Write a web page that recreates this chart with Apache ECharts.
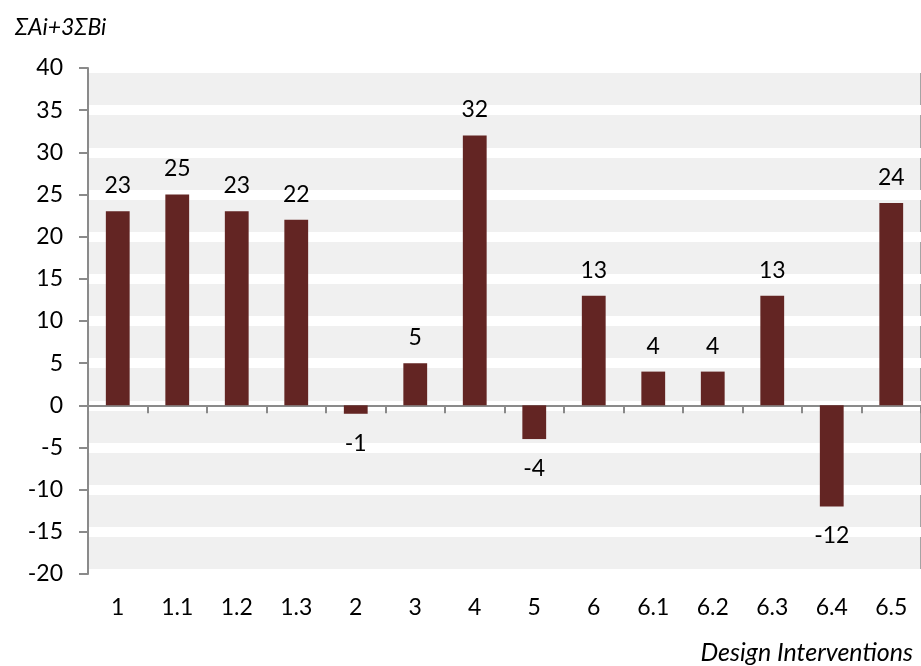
<!DOCTYPE html>
<html>
<head>
<meta charset="utf-8">
<script src="https://cdn.jsdelivr.net/npm/echarts@6/dist/echarts.min.js"></script>
<style>
  html, body { margin: 0; padding: 0; background: #fff; }
  #chart { width: 921px; height: 666px; }
</style>
</head>
<body>
<div id="chart"></div>
<script>
const categories = ['1', '1.1', '1.2', '1.3', '2', '3', '4', '5', '6', '6.1', '6.2', '6.3', '6.4', '6.5'];
const scores = [23, 25, 23, 22, -1, 5, 32, -4, 13, 4, 4, 13, -12, 24];
const yTicks = { min: -20, max: 40, interval: 5 };

const font = 'Lato, "Open Sans", sans-serif';
const axisGray = '#8a8a8a';

let chart = echarts.init(document.getElementById('chart'));
chart.setOption({
  animation: false,
  textStyle: { fontFamily: font },
  title: [{
    text: 'ΣAi+3ΣBi',
    left: 10, top: 11,
    textStyle: { fontFamily: font, fontStyle: 'italic', fontWeight: 'normal', fontSize: 23, color: '#000' }
  }, {
    text: 'Design Interventions',
    right: 3, top: 635,
    textStyle: { fontFamily: font, fontStyle: 'italic', fontWeight: 'normal', fontSize: 25, color: '#000' }
  }],
  grid: {
    left: 88, right: -7, top: 68, bottom: 92,
    show: true,
    backgroundColor: '#f0f0f0',
    borderColor: axisGray,
    borderWidth: 1.5
  },
  xAxis: [{
    type: 'category',
    data: categories,
    axisLine: { onZero: true, lineStyle: { color: axisGray, width: 2 } },
    axisTick: { show: true, length: 8, lineStyle: { color: axisGray, width: 2 } },
    axisLabel: { show: false }
  }, {
    type: 'category',
    data: categories,
    position: 'bottom',
    axisLine: { show: false, onZero: false },
    axisTick: { show: false },
    axisLabel: { margin: 22, fontSize: 23, color: '#000', fontFamily: font }
  }],
  yAxis: {
    type: 'value',
    min: yTicks.min, max: yTicks.max, interval: yTicks.interval,
    axisLine: { show: true, lineStyle: { color: axisGray, width: 2 } },
    axisTick: { show: true, length: 9, lineStyle: { color: axisGray, width: 2 } },
    axisLabel: { margin: 25, fontSize: 23, color: '#000', fontFamily: font },
    splitLine: { show: true, lineStyle: { color: '#ffffff', width: 10 } }
  },
  series: [{
    type: 'bar',
    xAxisIndex: 0,
    barWidth: '40%',
    itemStyle: { color: '#632523' },
    data: scores.map(v => ({
      value: v,
      label: { position: v < 0 ? 'bottom' : 'top', distance: v < 0 ? 18 : 14 }
    })),
    label: {
      show: true,
      fontSize: 23,
      color: '#000',
      fontFamily: font
    }
  }]
});
window.onresize = () => {
  chart.resize();
};
</script>
</body>
</html>
